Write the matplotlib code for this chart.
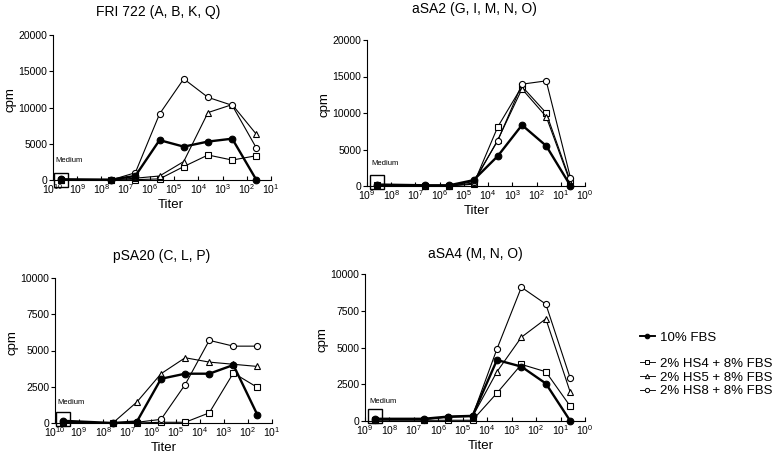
import numpy as np
import matplotlib
matplotlib.use('Agg')
import matplotlib.pyplot as plt
from matplotlib.ticker import LogLocator, LogFormatterMathtext, NullLocator, MultipleLocator
from matplotlib.lines import Line2D

plt.rcParams['font.family'] = ['Liberation Sans', 'DejaVu Sans']
plt.rcParams['mathtext.fontset'] = 'custom'
plt.rcParams['mathtext.rm'] = 'Liberation Sans'
plt.rcParams['mathtext.default'] = 'regular'

# titers (first point = medium control)
titer_a = [4.5e9, 4e7, 4e6, 4e5, 4e4, 4e3, 4e2, 4e1]
titer_b = [4e8, 4e6, 4e5, 4e4, 4e3, 4e2, 4e1, 4e0]

titles = ['FRI 722 (A, B, K, Q)', 'aSA2 (G, I, M, N, O)', 'pSA20 (C, L, P)', 'aSA4 (M, N, O)']
series_names = ['10% FBS', '2% HS4 + 8% FBS', '2% HS5 + 8% FBS', '2% HS8 + 8% FBS']

# FRI 722
fri_fbs = [100, 50, 550, 5500, 4600, 5300, 5700, 0]
fri_hs4 = [50, 0, 50, 150, 1850, 3450, 2750, 3350]
fri_hs5 = [50, 0, 250, 550, 2550, 9300, 10400, 6300]
fri_hs8 = [80, 0, 1000, 9100, 13950, 11400, 10300, 4400]
# aSA2
asa2_fbs = [200, 100, 100, 800, 4100, 8350, 5500, 50]
asa2_hs4 = [100, 0, 0, 250, 8100, 13650, 10000, 650]
asa2_hs5 = [100, 0, 0, 400, 6300, 13300, 9500, 450]
asa2_hs8 = [100, 50, 50, 600, 6200, 13950, 14400, 1150]
# pSA20
psa20_fbs = [150, 0, 100, 3050, 3400, 3400, 4000, 550]
psa20_hs4 = [0, 0, 0, 50, 50, 700, 3450, 2450]
psa20_hs5 = [50, 0, 1450, 3400, 4500, 4200, 4050, 3900]
psa20_hs8 = [50, 0, 50, 250, 2650, 5700, 5300, 5300]
# aSA4
asa4_fbs = [150, 150, 300, 350, 4150, 3700, 2550, 0]
asa4_hs4 = [50, 50, 50, 50, 1900, 3850, 3350, 1000]
asa4_hs5 = [100, 100, 250, 300, 3350, 5700, 6950, 1950]
asa4_hs8 = [100, 100, 300, 350, 4900, 9100, 7950, 2900]

medium_box_y = [0, 480, 250, 340]
medium_text_y = [2750, 3100, 1380, 1360]

panels = [
    (titer_a, [fri_fbs, fri_hs4, fri_hs5, fri_hs8], (1e10, 1e1), 20000, 5000),
    (titer_b, [asa2_fbs, asa2_hs4, asa2_hs5, asa2_hs8], (1e9, 1e0), 20000, 5000),
    (titer_a, [psa20_fbs, psa20_hs4, psa20_hs5, psa20_hs8], (1e10, 1e1), 10000, 2500),
    (titer_b, [asa4_fbs, asa4_hs4, asa4_hs5, asa4_hs8], (1e9, 1e0), 10000, 2500),
]

# axes rectangles in pixels: left, top, right, bottom
W, H = 775, 453
rects = [(53, 35, 271, 180), (367, 40, 585, 186), (55, 278, 272, 423), (365, 274, 585, 421)]
title_pos = [(158, 12), (474, 9), (162, 256), (475, 254)]
xlabel_x = [0.54, 0.505, 0.5, 0.525]

styles = [
    dict(marker='o', mfc='black', mec='black', lw=1.7, ms=4.8, color='black'),
    dict(marker='s', mfc='white', mec='black', lw=0.8, ms=4.2, color='black'),
    dict(marker='^', mfc='white', mec='black', lw=0.8, ms=4.4, color='black'),
    dict(marker='o', mfc='white', mec='black', lw=0.8, ms=4.4, color='black'),
]

fig = plt.figure(figsize=(W / 100, H / 100), dpi=100)

for i, (x, ys, xlim, ymax, ystep) in enumerate(panels):
    l, t, r, b = rects[i]
    ax = fig.add_axes([l / W, 1 - b / H, (r - l) / W, (b - t) / H])
    for j in [1, 2, 3, 0]:
        st = styles[j]
        ax.plot(x, ys[j], color=st['color'], lw=st['lw'], marker=st['marker'],
                ms=st['ms'], mfc=st['mfc'], mec=st['mec'], mew=0.8, clip_on=False,
                zorder=3 if j == 0 else 2)
    # medium box marker
    ax.plot([x[0]], [medium_box_y[i]], marker='s', ms=10, mfc='none', mec='black',
            mew=1.0, clip_on=False, zorder=4)
    ax.annotate('Medium', xy=(x[0], medium_text_y[i]), xytext=(-4, 0),
                textcoords='offset points', fontsize=5.5, ha='left', va='center')
    ax.set_xscale('log')
    ax.set_xlim(*xlim)
    ax.set_ylim(0, ymax)
    ax.xaxis.set_major_locator(LogLocator(base=10, numticks=15))
    ax.xaxis.set_major_formatter(LogFormatterMathtext())
    ax.xaxis.set_minor_locator(NullLocator())
    ax.yaxis.set_major_locator(MultipleLocator(ystep))
    for s in ['top', 'right']:
        ax.spines[s].set_visible(False)
    for s in ['left', 'bottom']:
        ax.spines[s].set_linewidth(0.8)
    ax.tick_params(axis='x', direction='in', length=3, width=0.8, pad=1.5, labelsize=7.5)
    ax.tick_params(axis='y', direction='out', length=3, width=0.8, pad=1, labelsize=7.5)
    ax.set_xlabel('Titer', fontsize=9.5)
    ax.set_ylabel('cpm', fontsize=9.5)
    ax.xaxis.set_label_coords(xlabel_x[i], -0.17)
    ax.xaxis.label.set_verticalalignment('center')
    ax.yaxis.set_label_coords(-0.195, 0.555)
    ax.yaxis.label.set_verticalalignment('center')
    fig.text(title_pos[i][0] / W, 1 - title_pos[i][1] / H, titles[i], fontsize=10,
             ha='center', va='center')

handles = []
for j in range(4):
    st = styles[j]
    handles.append(Line2D([], [], color='black', lw=st['lw'] * 0.8, marker=st['marker'],
                          ms=st['ms'] * 0.7, mfc=st['mfc'], mec=st['mec'], mew=0.7))

leg1 = fig.legend(handles[:1], series_names[:1], loc='center left',
                  bbox_to_anchor=(640 / W, 1 - 337.5 / H), frameon=False, fontsize=9.5,
                  handlelength=1.1, handletextpad=0.4, borderpad=0, borderaxespad=0)
leg2 = fig.legend(handles[1:], series_names[1:], loc='center left',
                  bbox_to_anchor=(640 / W, 1 - 377.5 / H), frameon=False, fontsize=9.5,
                  handlelength=1.1, handletextpad=0.4, borderpad=0, borderaxespad=0,
                  labelspacing=0.12)

fig.savefig('out.png', dpi=100)
